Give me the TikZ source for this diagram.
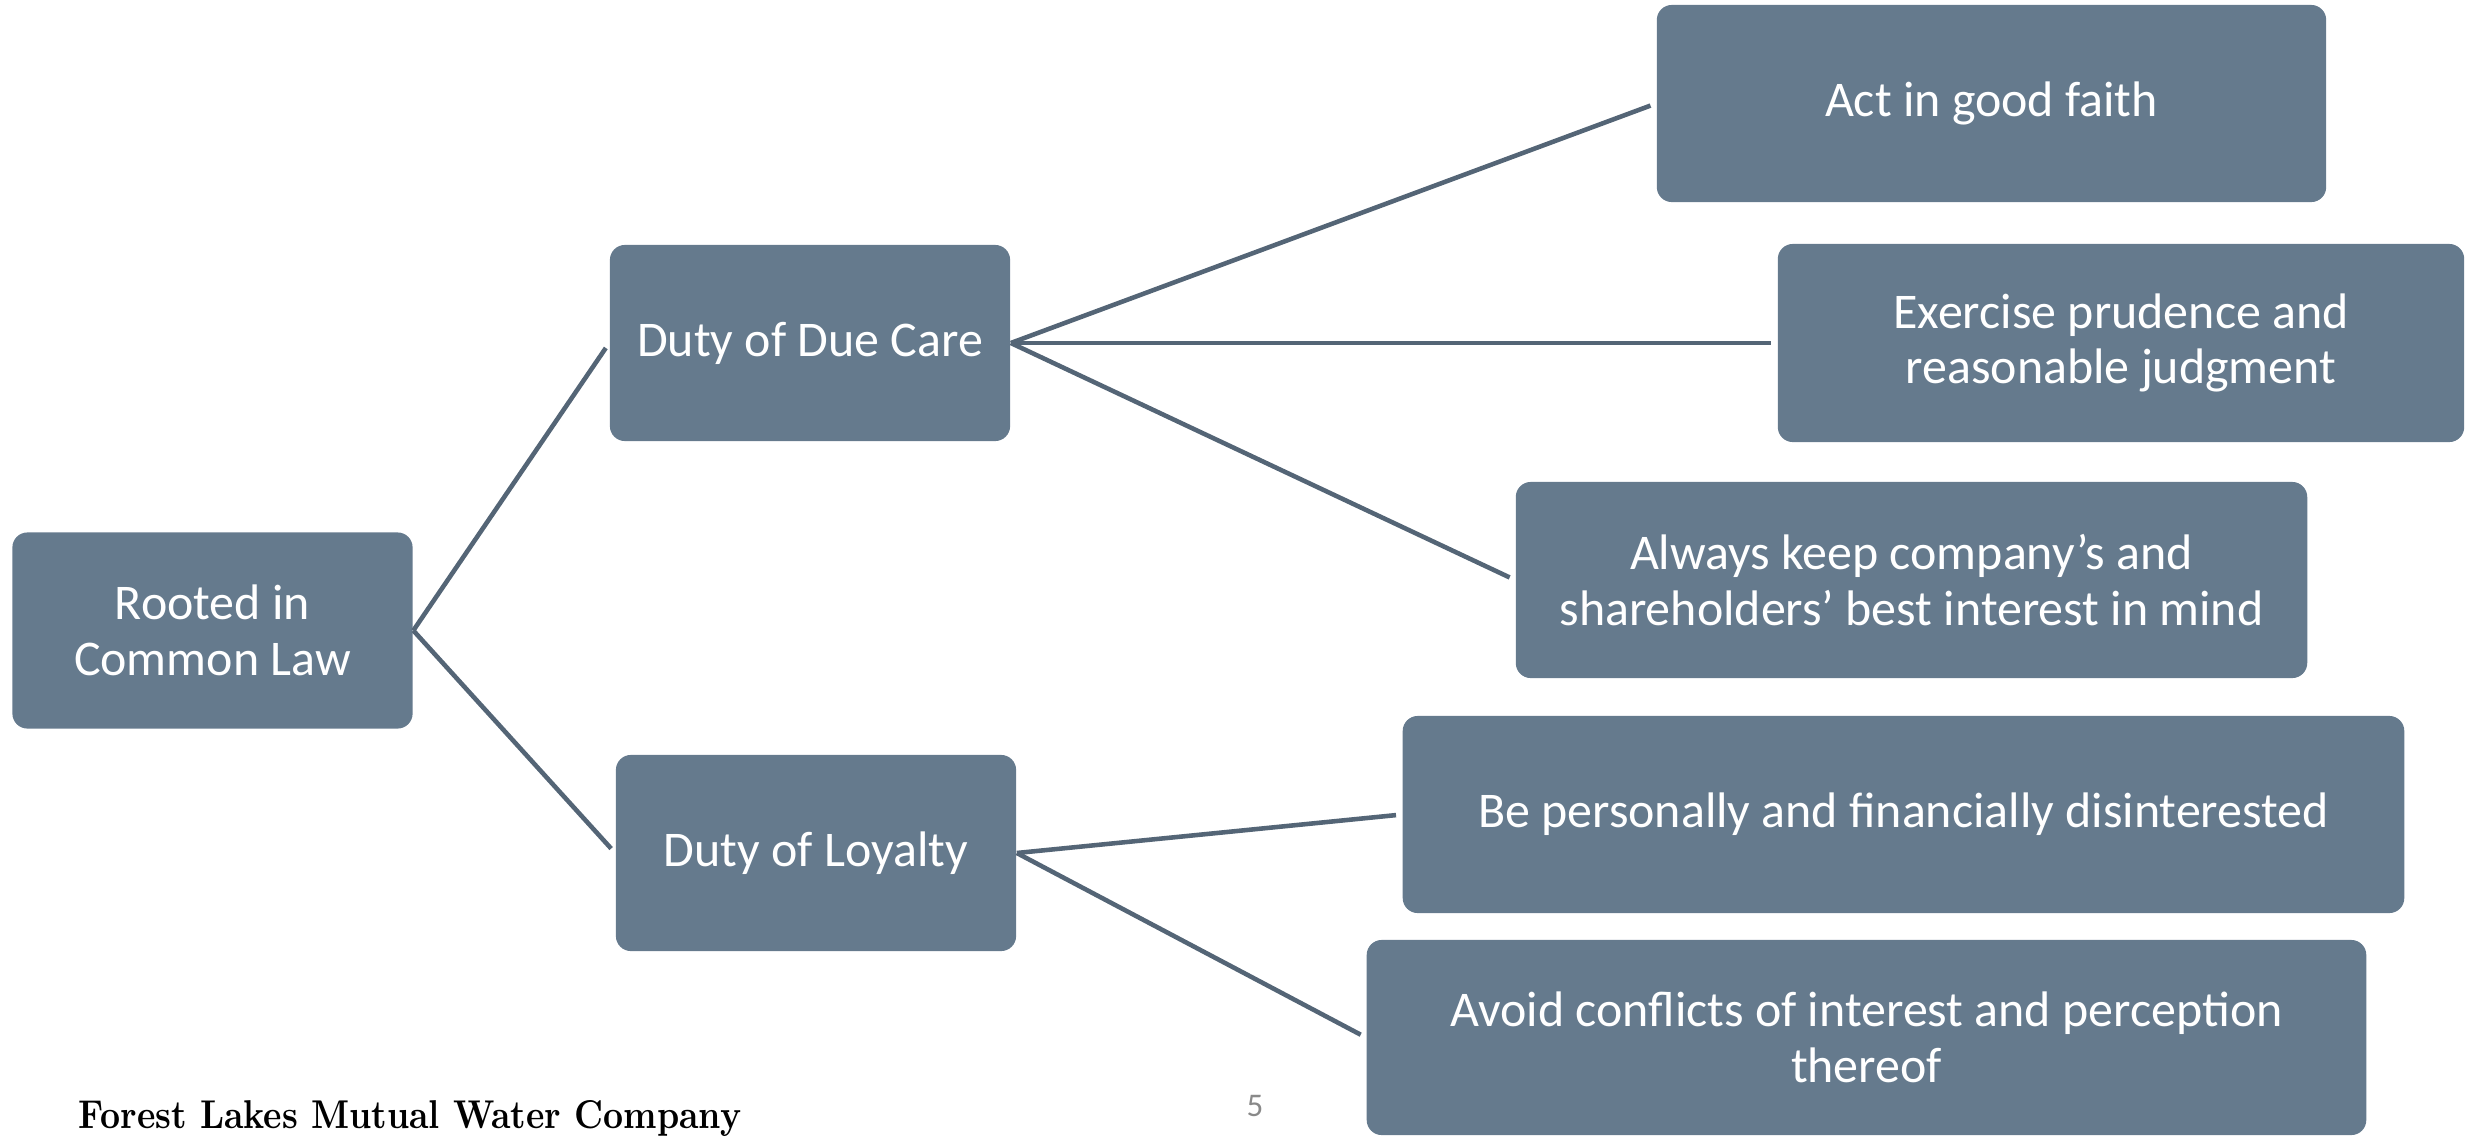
\documentclass[tikz,border=0pt]{standalone}
\usepackage{fontspec}
\setmainfont{Carlito}
\newfontfamily\footerfont{Latin Modern Roman}
\definecolor{boxfill}{RGB}{101,122,141}
\definecolor{linkcol}{RGB}{84,101,118}
\definecolor{pagegray}{RGB}{137,137,137}
\begin{document}
\begin{tikzpicture}[x=0.01cm,y=-0.01cm,
  card/.style={fill=boxfill,rounded corners=0.15cm,text=white,align=center,
    inner sep=0pt,font=\fontsize{14.2}{15.8}\selectfont},
  link/.style={draw=linkcol,line width=1.3pt,shorten >=0.06cm}]
  \useasboundingbox (0,0) rectangle (2478,1136);

  % level 0
  \node[card,minimum width=4.00cm,minimum height=1.96cm] (root) at (212.5,630.5)
    {Rooted in\\Common Law};
  % level 1
  \node[card,minimum width=4.00cm,minimum height=1.96cm] (care) at (810,343)
    {Duty of Due Care};
  \node[card,minimum width=4.00cm,minimum height=1.96cm] (loyal) at (816,853)
    {Duty of Loyalty};
  % level 2
  \node[card,minimum width=6.69cm,minimum height=1.97cm] (faith) at (1991.5,103.5)
    {Act in good faith};
  \node[card,minimum width=6.86cm,minimum height=1.98cm] (prud) at (2121,343)
    {Exercise prudence and\\reasonable judgment};
  \node[card,minimum width=7.91cm,minimum height=1.96cm] (best) at (1911.5,580)
    {Always keep company’s and\\shareholders’ best interest in mind};
  \node[card,minimum width=10.01cm,minimum height=1.97cm] (disint) at (1903.5,814.5)
    {Be personally and financially disinterested};
  \node[card,minimum width=9.99cm,minimum height=1.95cm] (confl) at (1866.5,1037.5)
    {Avoid conflicts of interest and perception\\thereof};

  % connectors
  \draw[link] (root.east) -- (care.west);
  \draw[link] (root.east) -- (loyal.west);
  \draw[link] (care.east) -- (faith.west);
  \draw[link] (care.east) -- (prud.west);
  \draw[link] (care.east) -- (best.west);
  \draw[link] (loyal.east) -- (disint.west);
  \draw[link] (loyal.east) -- (confl.west);

  % footer
  \node[anchor=base west,inner sep=0pt] (footer) at (78,1128)
    {\resizebox{6.62cm}{0.28cm}{\footerfont\bfseries Forest Lakes Mutual Water Company}};
  \node[anchor=base,inner sep=0pt,text=pagegray,font=\fontsize{9.4}{11}\selectfont] (pagenum) at (1255,1116) {5};
\end{tikzpicture}
\end{document}
